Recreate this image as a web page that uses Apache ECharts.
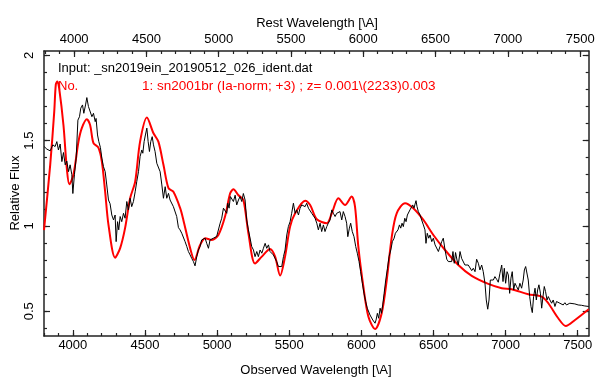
<!DOCTYPE html>
<html><head><meta charset="utf-8">
<script src="https://cdn.jsdelivr.net/npm/echarts@6/dist/echarts.min.js"></script>
<style>html,body{margin:0;padding:0;background:#fff}#c{width:612px;height:391px}</style>
</head><body><div id="c"></div>
<script>
// Observed spectrum (wavelength in Å, relative flux)
const obsWave = [3801,3820,3843,3861,3877,3889,3900,3912,3924,3935,3947,3958,3970,3981,3993,4000,4011,4023,4035,4046,4055,4067,4076,4088,4097,4108,4120,4132,4143,4155,4161,4171,4180,4191,4201,4212,4224,4235,4247,4258,4270,4282,4293,4300,4310,4318,4328,4339,4351,4362,4374,4385,4397,4408,4420,4432,4443,4455,4466,4478,4485,4494,4503,4513,4522,4531,4540,4550,4559,4570,4582,4593,4605,4617,4628,4640,4651,4663,4674,4686,4697,4709,4720,4732,4743,4755,4766,4778,4790,4801,4813,4824,4836,4847,4859,4870,4882,4893,4905,4917,4928,4940,4951,4963,4974,4986,4997,5009,5021,5032,5044,5055,5067,5074,5083,5092,5101,5113,5125,5136,5148,5159,5171,5182,5194,5205,5217,5229,5240,5252,5263,5275,5286,5298,5310,5321,5333,5344,5356,5367,5379,5390,5402,5413,5425,5437,5448,5460,5471,5483,5494,5506,5517,5529,5541,5552,5564,5575,5587,5598,5610,5621,5633,5645,5656,5667,5679,5691,5702,5714,5725,5737,5748,5760,5771,5783,5795,5806,5818,5829,5841,5852,5864,5875,5887,5898,5906,5917,5926,5937,5949,5961,5972,5984,5995,6007,6018,6030,6041,6053,6060,6072,6079,6088,6095,6102,6111,6120,6130,6139,6148,6158,6169,6181,6192,6204,6215,6227,6236,6245,6254,6264,6273,6282,6291,6301,6310,6319,6328,6337,6347,6356,6365,6372,6379,6386,6395,6407,6418,6430,6441,6448,6457,6467,6476,6488,6499,6511,6522,6534,6545,6557,6568,6580,6592,6603,6615,6626,6635,6644,6653,6663,6672,6684,6695,6707,6718,6730,6741,6753,6765,6776,6788,6799,6811,6822,6834,6845,6857,6866,6876,6885,6894,6903,6915,6926,6938,6949,6961,6973,6982,6991,7000,7010,7019,7028,7037,7046,7056,7065,7076,7088,7099,7111,7122,7130,7139,7148,7157,7167,7176,7185,7194,7204,7213,7222,7231,7241,7250,7259,7268,7277,7287,7296,7307,7319,7330,7342,7353,7365,7376,7388,7399,7411,7422,7434,7445,7457,7480,7503,7526,7549,7576];
const obsFlux = [1.465,1.45,1.44,1.475,1.465,1.494,1.445,1.48,1.377,1.43,1.358,1.38,1.318,1.358,1.30,1.19,1.30,1.397,1.62,1.64,1.69,1.709,1.66,1.709,1.752,1.70,1.709,1.64,1.66,1.611,1.63,1.533,1.494,1.46,1.397,1.348,1.318,1.24,1.152,1.13,1.064,1.035,1.064,0.908,1.025,0.977,1.055,1.025,1.074,1.045,1.143,1.094,1.162,1.113,1.143,1.20,1.26,1.318,1.406,1.445,1.426,1.494,1.533,1.573,1.494,1.436,1.494,1.523,1.475,1.436,1.367,1.377,1.318,1.24,1.162,1.23,1.162,1.191,1.152,1.16,1.113,1.104,1.055,0.99,0.977,0.957,0.967,0.908,0.879,0.85,0.83,0.81,0.791,0.766,0.82,0.859,0.879,0.918,0.908,0.928,0.898,0.869,0.918,0.908,0.928,0.918,0.938,0.947,1.016,1.045,1.104,1.113,1.074,1.133,1.104,1.172,1.162,1.143,1.18,1.123,1.152,1.172,1.143,1.19,1.152,1.035,0.977,0.987,0.879,0.859,0.82,0.85,0.82,0.859,0.84,0.869,0.898,0.869,0.889,0.85,0.859,0.83,0.82,0.791,0.762,0.772,0.762,0.82,0.859,0.947,0.996,1.025,1.074,1.133,1.074,1.094,1.064,1.104,1.123,1.133,1.113,1.133,1.104,1.10,1.074,1.084,1.045,1.016,0.977,1.016,0.967,1.006,0.967,0.996,1.016,1.035,1.094,1.074,1.055,1.074,1.064,1.084,1.035,1.084,1.055,1.016,0.937,0.987,1.016,0.967,0.937,0.879,0.84,0.791,0.732,0.664,0.606,0.556,0.518,0.528,0.478,0.468,0.449,0.459,0.43,0.449,0.488,0.459,0.518,0.488,0.537,0.606,0.683,0.752,0.82,0.859,0.908,0.928,0.957,0.947,0.977,1.006,0.987,1.016,0.996,1.045,1.025,1.064,1.055,1.094,1.084,1.123,1.104,1.128,1.148,1.113,1.084,1.064,1.035,1.006,0.977,0.898,0.957,0.928,0.947,0.908,0.928,0.889,0.898,0.85,0.879,0.908,0.928,0.86,0.805,0.791,0.80,0.791,0.85,0.781,0.844,0.80,0.771,0.85,0.81,0.80,0.771,0.781,0.771,0.762,0.738,0.752,0.732,0.805,0.781,0.742,0.771,0.732,0.664,0.566,0.512,0.566,0.683,0.674,0.683,0.703,0.687,0.67,0.723,0.771,0.674,0.752,0.664,0.732,0.713,0.605,0.694,0.732,0.625,0.664,0.645,0.625,0.664,0.635,0.683,0.742,0.762,0.752,0.683,0.586,0.528,0.492,0.586,0.635,0.566,0.625,0.655,0.606,0.518,0.586,0.645,0.615,0.566,0.586,0.566,0.547,0.566,0.528,0.557,0.566,0.547,0.557,0.537,0.55,0.537,0.543,0.547,0.55,0.543,0.537,0.535,0.531,0.528];
// Template spectrum sn2001br
const tplWave = [3800,3843,3871,3882,3893,3905,3935,3958,3976,4004,4039,4062,4097,4120,4143,4177,4201,4224,4247,4293,4328,4362,4397,4432,4466,4513,4559,4593,4628,4663,4697,4744,4766,4813,4843,4882,4917,4963,5009,5055,5090,5113,5148,5182,5217,5263,5310,5367,5402,5437,5471,5506,5541,5610,5645,5691,5760,5795,5841,5887,5933,5956,5979,6014,6049,6095,6141,6176,6211,6245,6303,6360,6430,6499,6580,6672,6765,6880,6973,7042,7157,7250,7296,7365,7417,7481,7576];
const tplFlux = [0.975,1.358,1.67,1.83,1.846,1.807,1.59,1.338,1.244,1.30,1.494,1.573,1.625,1.59,1.485,1.459,1.377,1.20,1.006,0.814,0.87,0.987,1.162,1.26,1.494,1.635,1.543,1.494,1.358,1.221,1.20,1.104,1.035,0.87,0.80,0.888,0.928,0.918,0.947,1.055,1.19,1.215,1.18,1.152,0.957,0.78,0.82,0.865,0.82,0.709,0.82,0.996,1.074,1.148,1.123,1.039,1.016,1.074,1.162,1.123,1.172,1.113,0.879,0.644,0.468,0.396,0.488,0.683,0.937,1.074,1.133,1.104,1.035,0.947,0.859,0.771,0.707,0.66,0.635,0.629,0.60,0.586,0.547,0.459,0.414,0.449,0.512];
const obsTickLabels = [4000,4500,5000,5500,6000,6500,7000,7500];
const restTickLabels = [4000,4500,5000,5500,6000,6500,7000,7500];
const fluxTickLabels = [0.5,1,1.5,2];
const labelInput = 'Input: _sn2019ein_20190512_026_ident.dat';
const labelNo = 'No.';
const labelMatch = '1: sn2001br (Ia-norm; +3) ; z= 0.001\\(2233)0.003';

const X_MIN = 3800, X_MAX = 7576, Z = 0.002233;
const Y_MIN = 0.355, Y_MAX = 2.025;
const minorObs = []; for (let v = 3800; v <= 7500; v += 100) minorObs.push(v);
const minorRest = []; for (let v = 3800; v <= 7500; v += 100) minorRest.push(v);
const minorFlux = []; for (let k = 4; k <= 20; k++) minorFlux.push(k / 10);

const FONT = 'Liberation Sans, Arial, sans-serif';
const AX = '#222';
const plain = v => String(v);
function xAxisDef(pos, min, max, vals, major, showLabel) {
  return {
    type: 'value', position: pos, min: min, max: max, gridIndex: 0,
    axisLine: { show: major, onZero: false, lineStyle: { color: AX, width: 1.5 } },
    axisTick: { show: true, inside: true, length: major ? 6 : 3, customValues: vals, lineStyle: { color: AX, width: 1.2 } },
    axisLabel: showLabel ? { show: true, customValues: vals, formatter: plain, margin: pos === 'top' ? 5 : 3, fontSize: 13, color: '#000', fontFamily: FONT } : { show: false },
    splitLine: { show: false }
  };
}
function yAxisDef(pos, vals, major, showLabel) {
  return {
    type: 'value', position: pos, min: Y_MIN, max: Y_MAX, gridIndex: 0,
    axisLine: { show: major, onZero: false, lineStyle: { color: AX, width: 1.5 } },
    axisTick: { show: true, inside: true, length: major ? 6 : 3, customValues: vals, lineStyle: { color: AX, width: 1.2 } },
    axisLabel: showLabel ? { show: true, customValues: vals, formatter: plain, rotate: 90, margin: 8, fontSize: 13, color: '#000', fontFamily: FONT } : { show: false },
    splitLine: { show: false }
  };
}

const chart = echarts.init(document.getElementById('c'), null, { renderer: 'canvas' });
chart.setOption({
  animation: false,
  backgroundColor: '#fff',
  grid: { left: 44, right: 23.3, top: 51, bottom: 55, containLabel: false, outerBoundsMode: 'none' },
  xAxis: [
    xAxisDef('bottom', X_MIN, X_MAX, obsTickLabels, true, true),
    xAxisDef('bottom', X_MIN, X_MAX, minorObs, false, false),
    xAxisDef('top', X_MIN / (1 + Z), X_MAX / (1 + Z), restTickLabels, true, true),
    xAxisDef('top', X_MIN / (1 + Z), X_MAX / (1 + Z), minorRest, false, false)
  ],
  yAxis: [
    yAxisDef('left', fluxTickLabels, true, true),
    yAxisDef('left', minorFlux, false, false),
    yAxisDef('right', fluxTickLabels, true, false),
    yAxisDef('right', minorFlux, false, false)
  ],
  series: [
    { type: 'line', xAxisIndex: 0, yAxisIndex: 0, data: tplWave.map((w, i) => [w, tplFlux[i]]),
      symbol: 'none', smooth: 0.3, lineStyle: { color: '#ff0000', width: 2 }, z: 2 },
    { type: 'line', xAxisIndex: 0, yAxisIndex: 0, data: obsWave.map((w, i) => [w, obsFlux[i]]),
      symbol: 'none', lineStyle: { color: '#000', width: 1 }, z: 3 }
  ],
  graphic: [
    { type: 'text', x: 317, y: 23, style: { text: 'Rest Wavelength [\\A]', font: '13px ' + FONT, fill: '#000', textAlign: 'center', textVerticalAlign: 'middle' } },
    { type: 'text', x: 316, y: 370, style: { text: 'Observed Wavelength [\\A]', font: '13px ' + FONT, fill: '#000', textAlign: 'center', textVerticalAlign: 'middle' } },
    { type: 'text', x: 15, y: 193, rotation: Math.PI / 2, style: { text: 'Relative Flux', font: '13px ' + FONT, fill: '#000', textAlign: 'center', textVerticalAlign: 'middle' } },
    { type: 'text', x: 58, y: 68, style: { text: labelInput, font: '13px ' + FONT, fill: '#000', textAlign: 'left', textVerticalAlign: 'middle' } },
    { type: 'text', x: 58, y: 86, style: { text: labelNo, font: '13px ' + FONT, fill: '#ff0000', textAlign: 'left', textVerticalAlign: 'middle' } },
    { type: 'text', x: 142, y: 86, style: { text: labelMatch, font: '13.5px ' + FONT, fill: '#ff0000', textAlign: 'left', textVerticalAlign: 'middle' } }
  ]
});
</script>
</body></html>
